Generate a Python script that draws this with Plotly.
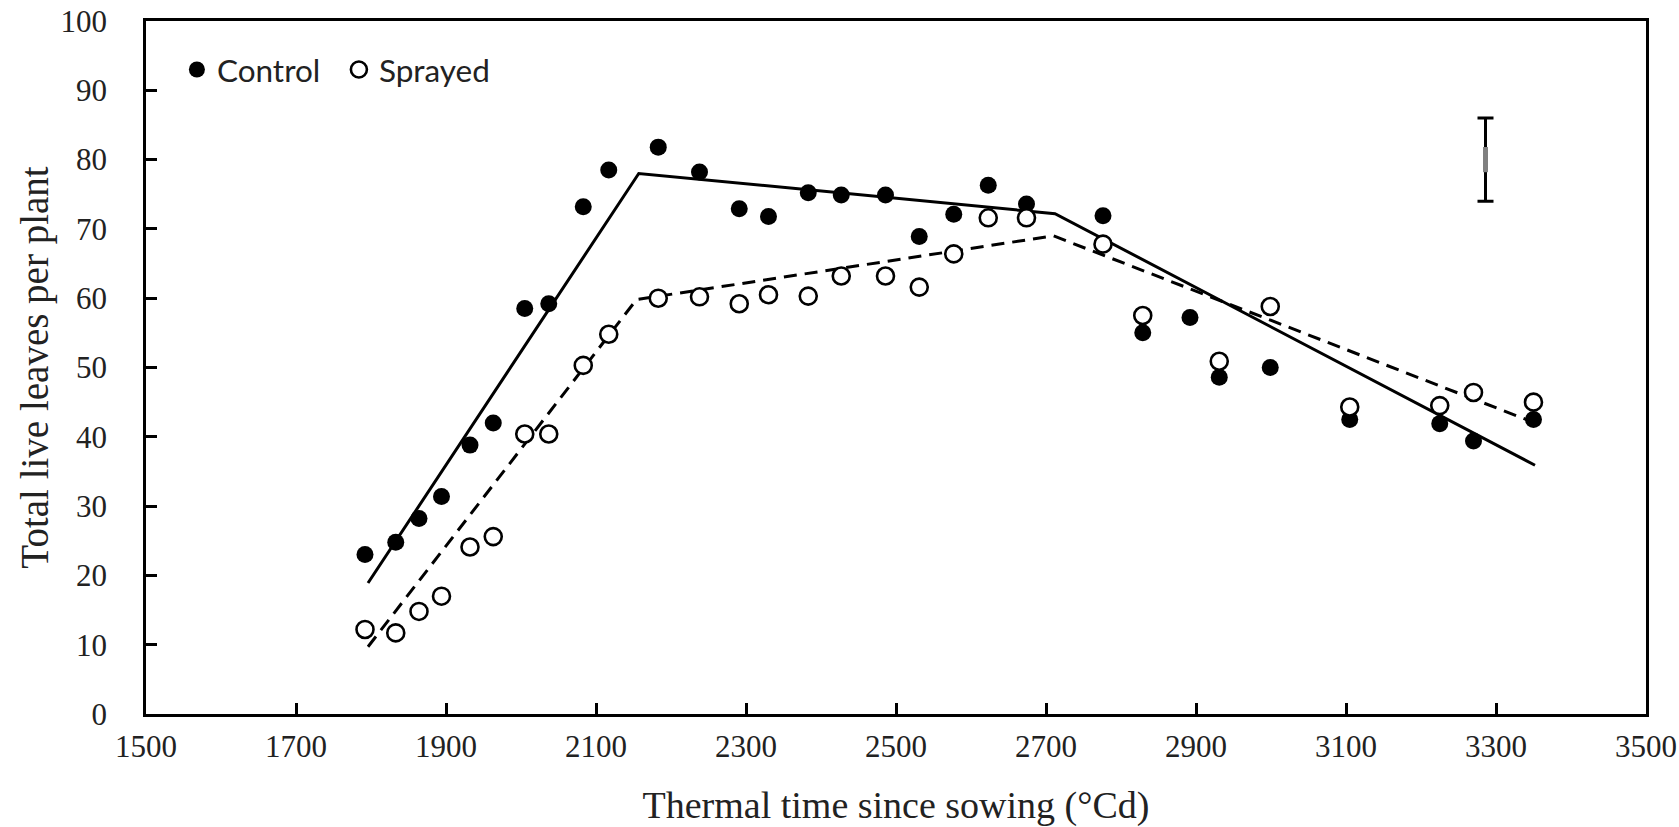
import plotly.graph_objects as go

# Thermal time (°Cd) of each sampling
thermal_time = [1792, 1833, 1864, 1894, 1932, 1963, 2005, 2037, 2083, 2117, 2183,
                2238, 2291, 2330, 2383, 2427, 2486, 2531, 2577, 2623, 2674,
                2776, 2829, 2892, 2931, 2999, 3105, 3225, 3270, 3350]

control = [23.0, 24.8, 28.2, 31.4, 38.8, 42.0, 58.5, 59.2, 73.2, 78.5, 81.8,
           78.2, 72.9, 71.8, 75.2, 74.9, 74.9, 68.9, 72.1, 76.3, 73.6,
           71.9, 55.0, 57.2, 48.6, 50.0, 42.5, 41.9, 39.4, 42.5]

sprayed = [12.2, 11.7, 14.8, 17.0, 24.1, 25.6, 40.4, 40.4, 50.3, 54.8, 60.0,
           60.2, 59.2, 60.5, 60.3, 63.2, 63.2, 61.6, 66.4, 71.6, 71.6,
           67.8, 57.5, None, 50.9, 58.8, 44.3, 44.5, 46.4, 45.0]

# Fitted broken-stick lines (breakpoints)
control_fit_x = [1796, 2157, 2712, 3352]
control_fit_y = [18.9, 78.0, 72.2, 35.9]
sprayed_fit_x = [1796, 2154, 2710, 3352]
sprayed_fit_y = [9.7, 59.8, 69.0, 42.0]

# Error bar (LSD)
lsd_x = [3286]
lsd_y = [80.0]
lsd_half = [6.0]

fig = go.Figure()

fig.add_trace(go.Scatter(x=control_fit_x, y=control_fit_y, mode="lines",
                         line=dict(color="black", width=3), showlegend=False,
                         hoverinfo="skip"))
fig.add_trace(go.Scatter(x=sprayed_fit_x, y=sprayed_fit_y, mode="lines",
                         line=dict(color="black", width=3, dash="13px,8px"),
                         showlegend=False, hoverinfo="skip"))

fig.add_trace(go.Scatter(x=thermal_time, y=control, mode="markers", name="Control",
                         marker=dict(symbol="circle", size=17, color="black",
                                     line=dict(width=0))))
fig.add_trace(go.Scatter(x=thermal_time, y=sprayed, mode="markers", name="Sprayed",
                         marker=dict(symbol="circle", size=17, color="white",
                                     line=dict(width=2.6, color="black"))))

fig.add_trace(go.Scatter(x=lsd_x, y=lsd_y, mode="markers", showlegend=False,
                         marker=dict(symbol="line-ns", size=18,
                                     line=dict(width=5, color="#808080")),
                         error_y=dict(type="data", array=lsd_half, visible=True,
                                      color="black", thickness=3, width=8)))

tick_font = dict(family="Liberation Serif", size=31, color="#222222")
title_font = dict(family="Liberation Serif", size=38, color="#222222")

fig.update_layout(
    width=1679, height=827,
    margin=dict(l=146, r=33, t=21, b=113),
    paper_bgcolor="white", plot_bgcolor="white",
    legend=dict(orientation="h", x=0.0206, y=0.93, xanchor="left", yanchor="middle",
                font=dict(family="Lato", size=31.5, color="#222222"),
                entrywidth=117, entrywidthmode="pixels",
                bgcolor="rgba(0,0,0,0)"),
    xaxis=dict(range=[1500, 3500], dtick=200, tick0=1500, showgrid=False,
               zeroline=False, showline=True, linecolor="black", linewidth=2.5,
               mirror=True, ticks="inside", ticklen=11, tickwidth=2.5,
               tickcolor="black", tickfont=tick_font, ticklabelstandoff=3,
               automargin=False, ticklabeloverflow="allow",
               title=dict(text="Thermal time since sowing (°Cd)", font=title_font,
                          standoff=34)),
    yaxis=dict(range=[0, 100], dtick=10, showgrid=False, zeroline=False,
               showline=True, linecolor="black", linewidth=2.5, mirror=True,
               ticks="inside", ticklen=11, tickwidth=2.5, tickcolor="black",
               tickfont=tick_font, ticklabelstandoff=30, automargin=False,
               ticklabeloverflow="allow",
               title=dict(text="Total live leaves per plant",
                          font=dict(family="Liberation Serif", size=39, color="#222222"),
                          standoff=0)),
)

# remove the default 8px page margin so the figure fills the window exactly
fig.write_html("out.html",
               config={"displayModeBar": False},
               post_script="document.body.style.margin='0px';"
                           "document.body.style.overflow='hidden';")
